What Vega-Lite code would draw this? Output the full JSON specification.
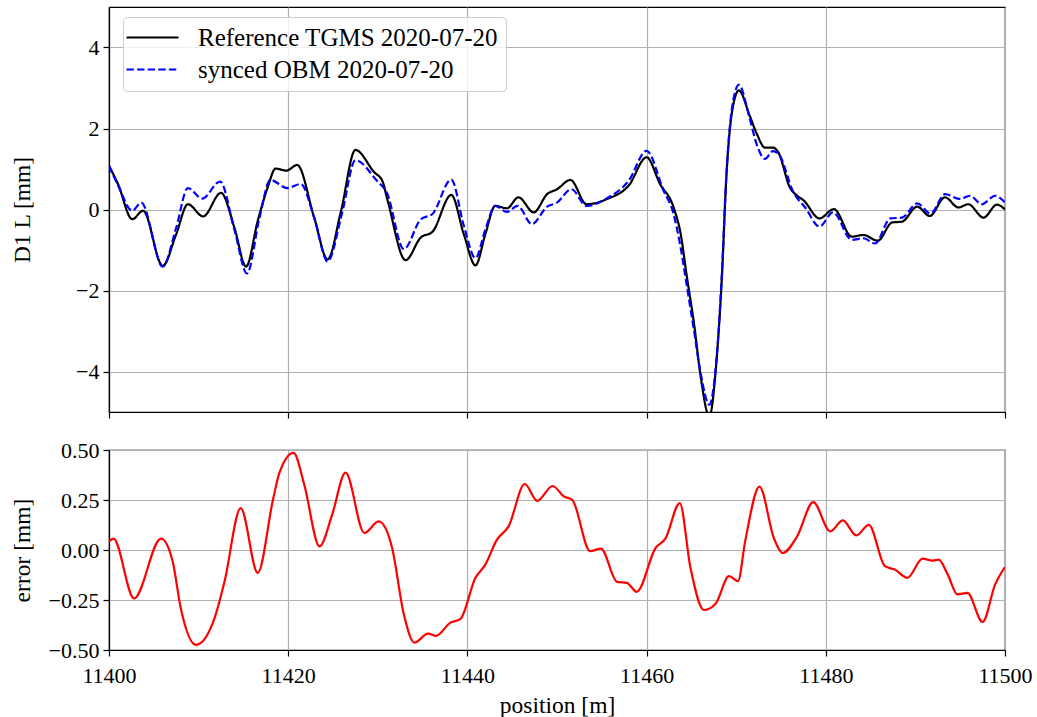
{
  "$schema": "https://vega.github.io/schema/vega-lite/v6.json",
  "autosize": {"type": "pad"},
  "padding": {"left": 9, "top": 6, "right": 5, "bottom": 5},
  "background": "white",
  "bounds": "flush",
  "spacing": 38,
  "config": {
    "font": "Liberation Serif",
    "view": {"stroke": "black", "strokeWidth": 1.2},
    "axis": {
      "labelFont": "Liberation Serif",
      "titleFont": "Liberation Serif",
      "labelFontSize": 22,
      "titleFontSize": 23.5,
      "titleFontWeight": "normal",
      "labelColor": "black",
      "titleColor": "black",
      "domainColor": "black",
      "domainWidth": 1.2,
      "tickColor": "black",
      "tickWidth": 1.2,
      "tickSize": 6,
      "gridColor": "#b0b0b0",
      "gridWidth": 1.2,
      "labelFlush": false,
      "labelOverlap": false,
      "labelPadding": 4
    }
  },
  "datasets": {
    "profile": [
      {"pos": 11400.0, "value": 1.08, "series": "Reference TGMS 2020-07-20"},
      {"pos": 11401.0, "value": 0.63, "series": "Reference TGMS 2020-07-20"},
      {"pos": 11402.6, "value": -0.24, "series": "Reference TGMS 2020-07-20"},
      {"pos": 11403.8, "value": -0.03, "series": "Reference TGMS 2020-07-20"},
      {"pos": 11406.0, "value": -1.39, "series": "Reference TGMS 2020-07-20"},
      {"pos": 11407.5, "value": -0.61, "series": "Reference TGMS 2020-07-20"},
      {"pos": 11408.8, "value": 0.13, "series": "Reference TGMS 2020-07-20"},
      {"pos": 11410.5, "value": -0.17, "series": "Reference TGMS 2020-07-20"},
      {"pos": 11412.5, "value": 0.41, "series": "Reference TGMS 2020-07-20"},
      {"pos": 11414.0, "value": -0.45, "series": "Reference TGMS 2020-07-20"},
      {"pos": 11415.3, "value": -1.41, "series": "Reference TGMS 2020-07-20"},
      {"pos": 11416.6, "value": -0.28, "series": "Reference TGMS 2020-07-20"},
      {"pos": 11417.7, "value": 0.54, "series": "Reference TGMS 2020-07-20"},
      {"pos": 11418.6, "value": 1.01, "series": "Reference TGMS 2020-07-20"},
      {"pos": 11419.8, "value": 0.96, "series": "Reference TGMS 2020-07-20"},
      {"pos": 11421.0, "value": 1.10, "series": "Reference TGMS 2020-07-20"},
      {"pos": 11422.9, "value": -0.20, "series": "Reference TGMS 2020-07-20"},
      {"pos": 11424.4, "value": -1.23, "series": "Reference TGMS 2020-07-20"},
      {"pos": 11425.9, "value": -0.03, "series": "Reference TGMS 2020-07-20"},
      {"pos": 11427.5, "value": 1.47, "series": "Reference TGMS 2020-07-20"},
      {"pos": 11429.6, "value": 0.92, "series": "Reference TGMS 2020-07-20"},
      {"pos": 11430.5, "value": 0.71, "series": "Reference TGMS 2020-07-20"},
      {"pos": 11431.1, "value": 0.22, "series": "Reference TGMS 2020-07-20"},
      {"pos": 11433.1, "value": -1.25, "series": "Reference TGMS 2020-07-20"},
      {"pos": 11434.8, "value": -0.69, "series": "Reference TGMS 2020-07-20"},
      {"pos": 11436.1, "value": -0.55, "series": "Reference TGMS 2020-07-20"},
      {"pos": 11438.2, "value": 0.36, "series": "Reference TGMS 2020-07-20"},
      {"pos": 11439.6, "value": -0.61, "series": "Reference TGMS 2020-07-20"},
      {"pos": 11440.9, "value": -1.38, "series": "Reference TGMS 2020-07-20"},
      {"pos": 11442.0, "value": -0.61, "series": "Reference TGMS 2020-07-20"},
      {"pos": 11443.1, "value": 0.09, "series": "Reference TGMS 2020-07-20"},
      {"pos": 11444.4, "value": 0.03, "series": "Reference TGMS 2020-07-20"},
      {"pos": 11445.7, "value": 0.30, "series": "Reference TGMS 2020-07-20"},
      {"pos": 11447.4, "value": -0.07, "series": "Reference TGMS 2020-07-20"},
      {"pos": 11448.9, "value": 0.38, "series": "Reference TGMS 2020-07-20"},
      {"pos": 11450.0, "value": 0.50, "series": "Reference TGMS 2020-07-20"},
      {"pos": 11451.5, "value": 0.73, "series": "Reference TGMS 2020-07-20"},
      {"pos": 11453.3, "value": 0.13, "series": "Reference TGMS 2020-07-20"},
      {"pos": 11455.6, "value": 0.26, "series": "Reference TGMS 2020-07-20"},
      {"pos": 11458.0, "value": 0.59, "series": "Reference TGMS 2020-07-20"},
      {"pos": 11460.0, "value": 1.29, "series": "Reference TGMS 2020-07-20"},
      {"pos": 11461.5, "value": 0.63, "series": "Reference TGMS 2020-07-20"},
      {"pos": 11463.0, "value": 0.06, "series": "Reference TGMS 2020-07-20"},
      {"pos": 11463.8, "value": -0.60, "series": "Reference TGMS 2020-07-20"},
      {"pos": 11464.5, "value": -1.67, "series": "Reference TGMS 2020-07-20"},
      {"pos": 11465.3, "value": -2.83, "series": "Reference TGMS 2020-07-20"},
      {"pos": 11466.0, "value": -4.07, "series": "Reference TGMS 2020-07-20"},
      {"pos": 11467.0, "value": -5.10, "series": "Reference TGMS 2020-07-20"},
      {"pos": 11467.8, "value": -3.74, "series": "Reference TGMS 2020-07-20"},
      {"pos": 11468.4, "value": -1.68, "series": "Reference TGMS 2020-07-20"},
      {"pos": 11468.9, "value": 0.79, "series": "Reference TGMS 2020-07-20"},
      {"pos": 11469.5, "value": 2.36, "series": "Reference TGMS 2020-07-20"},
      {"pos": 11470.3, "value": 2.94, "series": "Reference TGMS 2020-07-20"},
      {"pos": 11471.5, "value": 2.32, "series": "Reference TGMS 2020-07-20"},
      {"pos": 11472.3, "value": 1.87, "series": "Reference TGMS 2020-07-20"},
      {"pos": 11473.2, "value": 1.53, "series": "Reference TGMS 2020-07-20"},
      {"pos": 11474.1, "value": 1.53, "series": "Reference TGMS 2020-07-20"},
      {"pos": 11474.7, "value": 1.41, "series": "Reference TGMS 2020-07-20"},
      {"pos": 11476.0, "value": 0.54, "series": "Reference TGMS 2020-07-20"},
      {"pos": 11476.8, "value": 0.34, "series": "Reference TGMS 2020-07-20"},
      {"pos": 11477.5, "value": 0.23, "series": "Reference TGMS 2020-07-20"},
      {"pos": 11479.3, "value": -0.22, "series": "Reference TGMS 2020-07-20"},
      {"pos": 11480.9, "value": 0.01, "series": "Reference TGMS 2020-07-20"},
      {"pos": 11482.9, "value": -0.67, "series": "Reference TGMS 2020-07-20"},
      {"pos": 11484.2, "value": -0.63, "series": "Reference TGMS 2020-07-20"},
      {"pos": 11485.8, "value": -0.77, "series": "Reference TGMS 2020-07-20"},
      {"pos": 11487.4, "value": -0.32, "series": "Reference TGMS 2020-07-20"},
      {"pos": 11488.5, "value": -0.30, "series": "Reference TGMS 2020-07-20"},
      {"pos": 11490.2, "value": 0.07, "series": "Reference TGMS 2020-07-20"},
      {"pos": 11491.6, "value": -0.16, "series": "Reference TGMS 2020-07-20"},
      {"pos": 11493.3, "value": 0.30, "series": "Reference TGMS 2020-07-20"},
      {"pos": 11494.8, "value": 0.05, "series": "Reference TGMS 2020-07-20"},
      {"pos": 11495.9, "value": 0.13, "series": "Reference TGMS 2020-07-20"},
      {"pos": 11497.6, "value": -0.20, "series": "Reference TGMS 2020-07-20"},
      {"pos": 11499.1, "value": 0.12, "series": "Reference TGMS 2020-07-20"},
      {"pos": 11500.0, "value": 0.00, "series": "Reference TGMS 2020-07-20"},

      {"pos": 11400.0, "value": 1.08, "series": "synced OBM 2020-07-20"},
      {"pos": 11401.0, "value": 0.60, "series": "synced OBM 2020-07-20"},
      {"pos": 11402.6, "value": -0.03, "series": "synced OBM 2020-07-20"},
      {"pos": 11403.6, "value": 0.17, "series": "synced OBM 2020-07-20"},
      {"pos": 11406.0, "value": -1.41, "series": "synced OBM 2020-07-20"},
      {"pos": 11407.5, "value": -0.45, "series": "synced OBM 2020-07-20"},
      {"pos": 11408.8, "value": 0.53, "series": "synced OBM 2020-07-20"},
      {"pos": 11410.4, "value": 0.27, "series": "synced OBM 2020-07-20"},
      {"pos": 11412.4, "value": 0.69, "series": "synced OBM 2020-07-20"},
      {"pos": 11414.0, "value": -0.50, "series": "synced OBM 2020-07-20"},
      {"pos": 11415.4, "value": -1.58, "series": "synced OBM 2020-07-20"},
      {"pos": 11416.8, "value": -0.20, "series": "synced OBM 2020-07-20"},
      {"pos": 11418.0, "value": 0.73, "series": "synced OBM 2020-07-20"},
      {"pos": 11419.9, "value": 0.53, "series": "synced OBM 2020-07-20"},
      {"pos": 11421.4, "value": 0.63, "series": "synced OBM 2020-07-20"},
      {"pos": 11422.9, "value": -0.20, "series": "synced OBM 2020-07-20"},
      {"pos": 11424.4, "value": -1.28, "series": "synced OBM 2020-07-20"},
      {"pos": 11426.0, "value": -0.10, "series": "synced OBM 2020-07-20"},
      {"pos": 11427.5, "value": 1.22, "series": "synced OBM 2020-07-20"},
      {"pos": 11429.9, "value": 0.71, "series": "synced OBM 2020-07-20"},
      {"pos": 11431.0, "value": 0.42, "series": "synced OBM 2020-07-20"},
      {"pos": 11432.9, "value": -0.98, "series": "synced OBM 2020-07-20"},
      {"pos": 11434.8, "value": -0.24, "series": "synced OBM 2020-07-20"},
      {"pos": 11436.1, "value": -0.11, "series": "synced OBM 2020-07-20"},
      {"pos": 11438.2, "value": 0.74, "series": "synced OBM 2020-07-20"},
      {"pos": 11439.6, "value": -0.40, "series": "synced OBM 2020-07-20"},
      {"pos": 11440.9, "value": -1.20, "series": "synced OBM 2020-07-20"},
      {"pos": 11442.0, "value": -0.50, "series": "synced OBM 2020-07-20"},
      {"pos": 11443.1, "value": 0.09, "series": "synced OBM 2020-07-20"},
      {"pos": 11444.4, "value": -0.06, "series": "synced OBM 2020-07-20"},
      {"pos": 11445.6, "value": 0.09, "series": "synced OBM 2020-07-20"},
      {"pos": 11447.2, "value": -0.36, "series": "synced OBM 2020-07-20"},
      {"pos": 11448.9, "value": 0.07, "series": "synced OBM 2020-07-20"},
      {"pos": 11450.0, "value": 0.17, "series": "synced OBM 2020-07-20"},
      {"pos": 11451.6, "value": 0.50, "series": "synced OBM 2020-07-20"},
      {"pos": 11453.3, "value": 0.09, "series": "synced OBM 2020-07-20"},
      {"pos": 11455.6, "value": 0.28, "series": "synced OBM 2020-07-20"},
      {"pos": 11458.0, "value": 0.71, "series": "synced OBM 2020-07-20"},
      {"pos": 11460.0, "value": 1.45, "series": "synced OBM 2020-07-20"},
      {"pos": 11461.9, "value": 0.46, "series": "synced OBM 2020-07-20"},
      {"pos": 11463.0, "value": -0.10, "series": "synced OBM 2020-07-20"},
      {"pos": 11463.8, "value": -0.94, "series": "synced OBM 2020-07-20"},
      {"pos": 11464.5, "value": -1.90, "series": "synced OBM 2020-07-20"},
      {"pos": 11465.3, "value": -3.00, "series": "synced OBM 2020-07-20"},
      {"pos": 11466.0, "value": -4.00, "series": "synced OBM 2020-07-20"},
      {"pos": 11467.0, "value": -4.82, "series": "synced OBM 2020-07-20"},
      {"pos": 11467.8, "value": -3.70, "series": "synced OBM 2020-07-20"},
      {"pos": 11468.4, "value": -1.60, "series": "synced OBM 2020-07-20"},
      {"pos": 11468.9, "value": 0.85, "series": "synced OBM 2020-07-20"},
      {"pos": 11469.5, "value": 2.45, "series": "synced OBM 2020-07-20"},
      {"pos": 11470.3, "value": 3.08, "series": "synced OBM 2020-07-20"},
      {"pos": 11471.5, "value": 2.25, "series": "synced OBM 2020-07-20"},
      {"pos": 11472.3, "value": 1.60, "series": "synced OBM 2020-07-20"},
      {"pos": 11473.2, "value": 1.25, "series": "synced OBM 2020-07-20"},
      {"pos": 11474.1, "value": 1.44, "series": "synced OBM 2020-07-20"},
      {"pos": 11474.7, "value": 1.38, "series": "synced OBM 2020-07-20"},
      {"pos": 11476.4, "value": 0.42, "series": "synced OBM 2020-07-20"},
      {"pos": 11477.7, "value": 0.05, "series": "synced OBM 2020-07-20"},
      {"pos": 11479.3, "value": -0.42, "series": "synced OBM 2020-07-20"},
      {"pos": 11480.8, "value": -0.07, "series": "synced OBM 2020-07-20"},
      {"pos": 11482.9, "value": -0.75, "series": "synced OBM 2020-07-20"},
      {"pos": 11484.2, "value": -0.71, "series": "synced OBM 2020-07-20"},
      {"pos": 11485.5, "value": -0.84, "series": "synced OBM 2020-07-20"},
      {"pos": 11487.2, "value": -0.22, "series": "synced OBM 2020-07-20"},
      {"pos": 11488.5, "value": -0.20, "series": "synced OBM 2020-07-20"},
      {"pos": 11490.2, "value": 0.15, "series": "synced OBM 2020-07-20"},
      {"pos": 11491.7, "value": -0.10, "series": "synced OBM 2020-07-20"},
      {"pos": 11493.3, "value": 0.38, "series": "synced OBM 2020-07-20"},
      {"pos": 11495.0, "value": 0.26, "series": "synced OBM 2020-07-20"},
      {"pos": 11496.1, "value": 0.34, "series": "synced OBM 2020-07-20"},
      {"pos": 11497.4, "value": 0.13, "series": "synced OBM 2020-07-20"},
      {"pos": 11498.9, "value": 0.34, "series": "synced OBM 2020-07-20"},
      {"pos": 11500.0, "value": 0.17, "series": "synced OBM 2020-07-20"}
    ],
    "error": [
      {"pos": 11400.0, "err": 0.043},
      {"pos": 11400.5, "err": 0.057},
      {"pos": 11402.8, "err": -0.242},
      {"pos": 11405.8, "err": 0.057},
      {"pos": 11407.1, "err": -0.056},
      {"pos": 11408.0, "err": -0.289},
      {"pos": 11409.7, "err": -0.474},
      {"pos": 11411.8, "err": -0.338},
      {"pos": 11412.9, "err": -0.156},
      {"pos": 11414.7, "err": 0.209},
      {"pos": 11416.6, "err": -0.114},
      {"pos": 11418.3, "err": 0.251},
      {"pos": 11419.0, "err": 0.383},
      {"pos": 11420.6, "err": 0.486},
      {"pos": 11421.8, "err": 0.325},
      {"pos": 11423.5, "err": 0.018},
      {"pos": 11424.9, "err": 0.176},
      {"pos": 11426.4, "err": 0.387},
      {"pos": 11428.5, "err": 0.085},
      {"pos": 11430.1, "err": 0.143},
      {"pos": 11431.6, "err": 0.010},
      {"pos": 11432.9, "err": -0.321},
      {"pos": 11434.1, "err": -0.463},
      {"pos": 11435.6, "err": -0.418},
      {"pos": 11436.5, "err": -0.429},
      {"pos": 11438.1, "err": -0.363},
      {"pos": 11439.2, "err": -0.346},
      {"pos": 11440.9, "err": -0.139},
      {"pos": 11442.0, "err": -0.073},
      {"pos": 11443.3, "err": 0.052},
      {"pos": 11444.6, "err": 0.118},
      {"pos": 11446.4, "err": 0.330},
      {"pos": 11447.8, "err": 0.246},
      {"pos": 11449.5, "err": 0.320},
      {"pos": 11450.8, "err": 0.267},
      {"pos": 11451.7, "err": 0.251},
      {"pos": 11453.7, "err": -0.006},
      {"pos": 11454.9, "err": 0.007},
      {"pos": 11456.7, "err": -0.159},
      {"pos": 11457.8, "err": -0.164},
      {"pos": 11458.9, "err": -0.209},
      {"pos": 11461.0, "err": 0.010},
      {"pos": 11462.1, "err": 0.057},
      {"pos": 11463.7, "err": 0.234},
      {"pos": 11464.9, "err": -0.090},
      {"pos": 11466.4, "err": -0.300},
      {"pos": 11467.7, "err": -0.269},
      {"pos": 11469.2, "err": -0.131},
      {"pos": 11470.2, "err": -0.156},
      {"pos": 11471.0, "err": 0.043},
      {"pos": 11472.6, "err": 0.317},
      {"pos": 11474.2, "err": 0.060},
      {"pos": 11475.2, "err": -0.015},
      {"pos": 11476.8, "err": 0.068},
      {"pos": 11478.6, "err": 0.239},
      {"pos": 11480.5, "err": 0.093},
      {"pos": 11481.9, "err": 0.148},
      {"pos": 11483.4, "err": 0.073},
      {"pos": 11484.8, "err": 0.126},
      {"pos": 11486.6, "err": -0.081},
      {"pos": 11487.7, "err": -0.098},
      {"pos": 11489.1, "err": -0.139},
      {"pos": 11490.8, "err": -0.043},
      {"pos": 11491.9, "err": -0.053},
      {"pos": 11492.6, "err": -0.048},
      {"pos": 11493.6, "err": -0.122},
      {"pos": 11494.7, "err": -0.222},
      {"pos": 11495.8, "err": -0.214},
      {"pos": 11497.5, "err": -0.360},
      {"pos": 11498.9, "err": -0.172},
      {"pos": 11500.0, "err": -0.085}
    ]
  },
  "vconcat": [
    {
      "width": 896,
      "height": 405,
      "data": {"name": "profile"},
      "mark": {"type": "line", "strokeWidth": 2.2, "clip": true, "interpolate": "monotone"},
      "encoding": {
        "x": {
          "field": "pos", "type": "quantitative",
          "scale": {"domain": [11400, 11500], "nice": false, "zero": false},
          "axis": {"values": [11400, 11420, 11440, 11460, 11480, 11500], "labels": false, "title": null}
        },
        "y": {
          "field": "value", "type": "quantitative",
          "scale": {"domain": [-5, 5], "nice": false},
          "axis": {
            "values": [-4, -2, 0, 2, 4],
            "labelFont": "Liberation Serif", "labelFontSize": 22,
            "title": "D1 L [mm]", "titleFont": "Liberation Serif", "titleFontSize": 23.5,
            "titleX": -87, "titleY": 202.5, "titleAngle": -90,
            "titleBaseline": "middle", "titleAnchor": "middle", "titleAlign": "center"
          }
        },
        "color": {
          "field": "series", "type": "nominal",
          "scale": {"domain": ["Reference TGMS 2020-07-20", "synced OBM 2020-07-20"], "range": ["#000000", "#0000ff"]},
          "legend": {
            "orient": "none", "legendX": 14, "legendY": 10, "title": null,
            "symbolType": "M-2.5,0L2.5,0", "symbolSize": 433, "symbolStrokeWidth": 2.2,
            "symbolOffset": 9, "labelOffset": 33,
            "labelFont": "Liberation Serif", "labelFontSize": 25, "labelColor": "black", "labelLimit": 500,
            "padding": 8, "rowPadding": 6,
            "fillColor": "rgba(255,255,255,0.8)", "strokeColor": "#cccccc", "cornerRadius": 4
          }
        },
        "strokeDash": {
          "field": "series", "type": "nominal",
          "scale": {"domain": ["Reference TGMS 2020-07-20", "synced OBM 2020-07-20"], "range": [[1, 0], [7.4, 3.2]]},
          "legend": {
            "orient": "none", "legendX": 14, "legendY": 10, "title": null,
            "symbolType": "M-2.5,0L2.5,0", "symbolSize": 433, "symbolStrokeWidth": 2.2,
            "symbolOffset": 9, "labelOffset": 33,
            "labelFont": "Liberation Serif", "labelFontSize": 25, "labelColor": "black", "labelLimit": 500,
            "padding": 8, "rowPadding": 6,
            "fillColor": "rgba(255,255,255,0.8)", "strokeColor": "#cccccc", "cornerRadius": 4
          }
        }
      }
    },
    {
      "width": 896,
      "height": 200,
      "data": {"name": "error"},
      "mark": {"type": "line", "color": "#ff0000", "strokeWidth": 2.2, "clip": true, "interpolate": "monotone"},
      "encoding": {
        "x": {
          "field": "pos", "type": "quantitative",
          "scale": {"domain": [11400, 11500], "nice": false, "zero": false},
          "axis": {
            "values": [11400, 11420, 11440, 11460, 11480, 11500], "format": "d",
            "labelFont": "Liberation Serif", "labelFontSize": 22,
            "labelPadding": 9, "title": "position [m]", "titleFont": "Liberation Serif", "titleFontSize": 23.5,
            "titleX": 448, "titleY": 62, "titleBaseline": "alphabetic", "titleAnchor": "middle", "titleAlign": "center"
          }
        },
        "y": {
          "field": "err", "type": "quantitative",
          "scale": {"domain": [-0.5, 0.5], "nice": false},
          "axis": {
            "values": [-0.5, -0.25, 0, 0.25, 0.5], "format": ".2f",
            "labelFont": "Liberation Serif", "labelFontSize": 22,
            "title": "error [mm]", "titleFont": "Liberation Serif", "titleFontSize": 23.5,
            "titleX": -87, "titleY": 100, "titleAngle": -90,
            "titleBaseline": "middle", "titleAnchor": "middle", "titleAlign": "center"
          }
        }
      }
    }
  ]
}
